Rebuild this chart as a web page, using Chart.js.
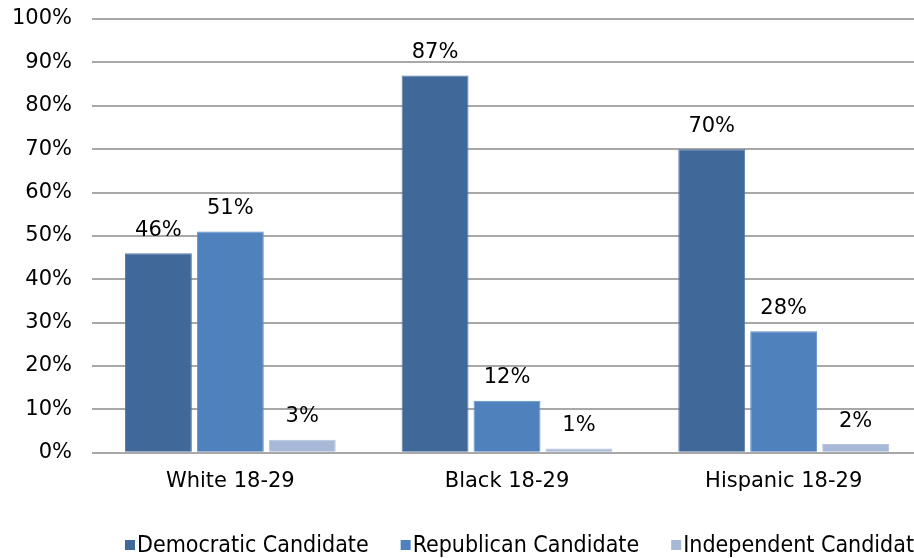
<!DOCTYPE html>
<html>
<head>
<meta charset="utf-8">
<script src="https://cdn.jsdelivr.net/npm/chart.js@4/dist/chart.umd.min.js"></script>
<style>
  html, body { margin: 0; padding: 0; background: #fff; overflow: hidden; }
  #wrap { width: 930px; height: 558px; }
</style>
</head>
<body>
<div id="wrap"><canvas id="vote-chart"></canvas></div>
<script>
// Vote share among 18-29 year olds, by group
const groups = ['White 18-29', 'Black 18-29', 'Hispanic 18-29'];
const seriesNames = ['Democratic Candidate', 'Republican Candidate', 'Independent Candidate'];
const democratic = [46, 87, 70];
const republican = [51, 12, 28];
const independent = [3, 1, 2];
const yTicks = [0, 10, 20, 30, 40, 50, 60, 70, 80, 90, 100];

const seriesColors = ['#40699A', '#4F81BD', '#A8B9D8'];
const edgeColors = ['#5579A6', '#6690C6', '#B6C5DF'];
const axisFont = { family: 'DejaVu Sans', size: 21 };

// value labels above every bar
const barLabels = {
  id: 'barLabels',
  afterDatasetsDraw(chart) {
    const ctx = chart.ctx;
    ctx.save();
    ctx.font = '21px "DejaVu Sans"';
    ctx.fillStyle = '#000';
    ctx.textAlign = 'center';
    ctx.textBaseline = 'middle';
    chart.data.datasets.forEach((ds, i) => {
      chart.getDatasetMeta(i).data.forEach((bar, j) => {
        ctx.fillText(ds.data[j] + '%', bar.x, bar.y - 23);
      });
    });
    ctx.restore();
  }
};

// legend row under the axis; it starts left of centre and runs off the right edge
const bottomLegend = {
  id: 'bottomLegend',
  afterDraw(chart) {
    const ctx = chart.ctx;
    let x = 125;
    const y = 545;
    ctx.save();
    ctx.font = '23px "DejaVu Sans Condensed"';
    ctx.textBaseline = 'middle';
    ctx.textAlign = 'left';
    chart.data.datasets.forEach(ds => {
      ctx.fillStyle = ds.backgroundColor;
      ctx.fillRect(x, y - 5, 10, 10);
      ctx.fillStyle = '#000';
      ctx.fillText(ds.label, x + 12, y + 1);
      x += 12 + ctx.measureText(ds.label).width + 32;
    });
    ctx.restore();
  }
};

new Chart(document.getElementById('vote-chart'), {
  type: 'bar',
  data: {
    labels: groups,
    datasets: [democratic, republican, independent].map((values, i) => ({
      label: seriesNames[i],
      data: values,
      backgroundColor: seriesColors[i],
      borderColor: edgeColors[i],
      borderWidth: 1
    }))
  },
  options: {
    responsive: true,
    maintainAspectRatio: false,
    animation: false,
    layout: { padding: { left: 10, right: 8, top: 19, bottom: 56 } },
    datasets: {
      bar: { barPercentage: 0.93, categoryPercentage: 0.78 }
    },
    scales: {
      x: {
        grid: { display: false },
        border: { display: false },
        ticks: { color: '#000', font: axisFont, padding: 8 }
      },
      y: {
        min: 0,
        max: 100,
        afterBuildTicks(axis) {
          axis.ticks = yTicks.map(v => ({ value: v }));
        },
        afterFit(axis) {
          axis.width = 82;
          axis.paddingTop = 0;
          axis.paddingBottom = 0;
        },
        grid: { color: '#A8A8A8', lineWidth: 2, drawTicks: false },
        border: { display: false },
        ticks: { color: '#000', font: axisFont, padding: 20, callback: v => v + '%' }
      }
    },
    plugins: {
      legend: { display: false },
      tooltip: { enabled: false }
    }
  },
  plugins: [barLabels, bottomLegend]
});
</script>
</body>
</html>
